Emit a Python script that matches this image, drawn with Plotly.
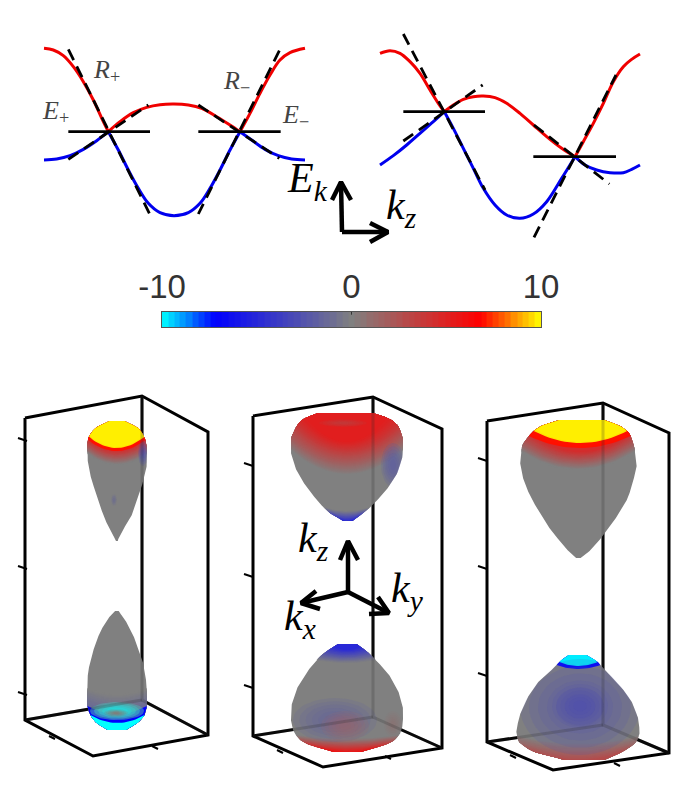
import numpy as np
import plotly.graph_objects as go
from plotly.colors import sample_colorscale

W, H = 678, 798
MATH = "Liberation Serif"

# dispersion panel 1 (k, E), crossings at E = 0
k1_red = [-390, -362, -332, -302, -272, -242, -212, -197, -162, -122, -82, -42, 0, 43, 83, 128, 168, 198, 228, 258, 288, 318, 348, 393]
e1_red = [250, 245, 228, 195, 150, 95, 30, 0, 30, 57, 73, 81, 83, 80, 70, 45, 20, 0, 55, 115, 170, 215, 237, 250]
k1_blue = [-390, -352, -312, -272, -232, -197, -167, -137, -107, -77, -42, 0, 43, 78, 108, 138, 168, 198, 233, 273, 313, 353, 393]
e1_blue = [-85, -82, -72, -53, -27, 0, -55, -115, -170, -215, -243, -252, -243, -215, -170, -115, -55, 0, -25, -53, -72, -82, -85]
k1_cross = [-197, 198]
t1_dashed = [([-317, -74], [247, -245]), ([-317, -77], [-83, 80]), ([316, 73], [243, -247]), ([73, 316], [80, -80])]
t1_flat = [([-317, -72], [0, 0]), ([73, 320], [0, 0])]

# dispersion panel 2
k2_red = [150, 180, 210, 240, 270, 300, 325, 343, 370, 400, 430, 460, 495, 530, 570, 610, 650, 695, 735, 760, 790, 820, 850, 880, 905, 930]
e2_red = [310, 318, 310, 285, 250, 200, 160, 135, 155, 172, 180, 182, 177, 160, 130, 95, 60, 25, 0, 45, 100, 160, 225, 270, 292, 308]
k2_blue = [150, 190, 230, 270, 310, 343, 370, 400, 430, 460, 495, 530, 570, 610, 650, 695, 735, 765, 800, 840, 880, 905, 930]
e2_blue = [-25, 3, 35, 70, 105, 135, 85, 25, -35, -95, -145, -175, -185, -172, -135, -65, 0, -25, -40, -48, -48, -38, -25]
k2_cross = [343, 735]
t2_dashed = [([220, 465], [368, -100]), ([220, 458], [47, 215]), ([612, 858], [-242, 245]), ([612, 838], [95, -82])]
t2_flat = [([220, 465], [135, 135]), ([610, 858], [0, 0])]

# colour bar
cbar_levels = [-9.85, -9.5, -9.2, -8.9, -8.6, -8.2, -7.9, -7.6, -7.3, -7.0, -6.7, -6.3, -6.0, -5.7, -5.4, -5.1,
               -4.8, -4.4, -4.1, -3.8, -3.5, -3.2, -2.9, -2.5, -2.2, -1.9, -1.6, -1.3, -1.0, -0.6, -0.3, 0,
               0.3, 0.6, 1.0, 1.3, 1.6, 1.9, 2.2, 2.5, 2.9, 3.2, 3.5, 3.8, 4.1, 4.4, 4.8, 5.1,
               5.4, 5.7, 6.0, 6.3, 6.7, 7.0, 7.3, 7.6, 7.9, 8.2, 8.6, 8.9, 9.2, 9.5, 9.85]
cbar_ticks = [-10, 0, 10]
cbar_labels = ["-10", "0", "10"]
cscale = [[0, "#00ffff"], [0.14, "#0000ff"], [0.5, "#808080"], [0.84, "#ff0000"], [1, "#ffff00"]]

# Fermi pockets: silhouette rows (y, left, right)
# bands fade (side, edge from, edge to, sag, value from, value to, alpha); spots (cx, cy, rx, ry, value, alpha)
a_top_rows = ([421, 423, 425, 428, 433, 438, 448, 465, 482, 498, 515, 528, 537, 541],
              [112, 106, 100, 95, 91, 88, 87, 88, 92, 98, 103, 109, 114, 116.5],
              [122, 128, 134, 139, 142, 145, 147, 147, 143, 138, 132, 124, 119, 117.5])
a_top_bands = [("top", 454, 440, 11, 0, 4.5, .8), ("top", 440, 439, 11, 7, 7, 1), ("top", 437, 436, 11, 9.8, 9.8, .95)]
a_top_spots = [(143, 453, 5, 13, -3.5, .6), (114, 500, 3, 6, -1.8, .35)]

a_bot_rows = ([611, 618, 632, 645, 658, 672, 688, 705, 715, 723, 727, 730],
              [116, 108, 100, 95, 91, 88, 87, 87, 90, 96, 102, 110],
              [118, 124, 132, 137, 142, 145, 147, 147, 145, 138, 131, 124])
a_bot_bands = [("bottom", 688, 704, 6, 0, -1.2, .6), ("bottom", 706, 707, 8, -7.2, -7.2, .95), ("bottom", 715, 716, 8, -10, -10, 1)]
a_bot_spots = [(117, 711, 27, 9, 0, 1.8), (117, 711, 27, 9, -10, .8), (116, 713, 12, 4, 7, .35)]

b_top_rows = ([413, 415, 418, 425, 438, 455, 472, 488, 505, 515, 521],
              [322, 312, 304, 297, 291, 291, 297, 307, 321, 332, 345],
              [368, 380, 389, 398, 403, 403, 398, 388, 373, 361, 351])
b_top_bands = [("top", 450, 418, 24, 0.2, 5.2, .9), ("bottom", 507, 517, 4, -0.3, -5, .8)]
b_top_spots = [(393, 465, 12, 22, -2.2, .8), (343, 423, 24, 4, 2.5, .5)]

b_bot_rows = ([644, 648, 657, 673, 690, 707, 723, 733, 742, 748, 752],
              [340, 331, 319, 306, 296, 291, 291, 294, 302, 318, 338],
              [355, 363, 373, 388, 398, 403, 403, 401, 393, 376, 357])
b_bot_bands = [("top", 660, 647, 3, -0.3, -5, .8), ("bottom", 735, 748, 4, 0.3, 5.8, .9)]
b_bot_spots = [(335, 720, 42, 22, -1.8, .7), (345, 726, 24, 15, 1.6, .6), (393, 724, 9, 13, 1.5, .35)]

c_top_rows = ([420, 422, 425, 432, 445, 465, 482, 498, 515, 532, 548, 555, 558],
              [564, 552, 542, 532, 522, 520, 524, 531, 541, 552, 566, 571, 578],
              [600, 611, 619, 629, 634, 637, 633, 628, 618, 606, 593, 585, 579])
c_top_bands = [("top", 452, 434, 18, 0, 4.5, .85), ("top", 436, 435, 12, 7, 7, 1), ("top", 431, 430, 12, 9.8, 9.8, .95)]
c_top_spots = []

c_bot_rows = ([655, 657, 660, 667, 683, 700, 717, 733, 743, 753, 760],
              [571, 565, 561, 555, 537, 526, 519, 516, 519, 535, 568],
              [584, 590, 596, 602, 618, 631, 638, 640, 636, 621, 602])
c_bot_bands = [("bottom", 736, 752, 8, 0.3, 2.8, .8), ("top", 665, 664, 4, -7.2, -7.2, 1), ("top", 662, 661, 4, -9.8, -9.8, .95)]
c_bot_spots = [(580, 707, 60, 48, -2.4, .7), (580, 706, 28, 22, -3.2, .45)]

pockets = [(a_top_rows, a_top_bands, a_top_spots), (a_bot_rows, a_bot_bands, a_bot_spots),
           (b_top_rows, b_top_bands, b_top_spots), (b_bot_rows, b_bot_bands, b_bot_spots),
           (c_top_rows, c_top_bands, c_top_spots), (c_bot_rows, c_bot_bands, c_bot_spots)]

# wire boxes: top-left, top-back, top-right, bottom-right, bottom-front, bottom-left, bottom-back
box_corners = [
    [(25, 418), (142, 396), (208, 432), (208, 735), (93, 756), (25, 720), (142, 700)],
    [(253, 416), (373, 397), (442, 429), (442, 748), (323, 767), (253, 736), (373, 717)],
    [(487, 421), (603, 403), (669, 433), (669, 753), (553, 770), (487, 742), (603, 725)],
]
box_ticks = [
    [(18, 438), (18, 566), (18, 692), (52, 738), (155, 748)],
    [(244, 463), (244, 574), (244, 685), (280, 752), (388, 758)],
    [(478, 458), (478, 566), (478, 673), (513, 757), (617, 765)],
]

# compass arrows: shaft, then chevron ends
arrows = [
    ((342, 232), (341, 182), (332, 200), (351, 200)),
    ((342, 232), (388, 232), (370, 223), (370, 242)),
    ((348, 592), (348, 541), (340, 560), (358, 560)),
    ((348, 592), (301, 603), (316, 591), (320, 609)),
    ((348, 592), (389, 613), (378, 597), (369, 614)),
]


def axis(px_a, px_b, rng):
    return dict(domain=[px_a / W, px_b / W], range=rng, visible=False, fixedrange=True, automargin=False)


def yaxis(px_top, px_bot, rng):
    return dict(domain=[1 - px_bot / H, 1 - px_top / H], range=rng, visible=False, fixedrange=True, automargin=False)


def tint(value, alpha):
    rgb = sample_colorscale(cscale, [(value + 10) / 20])[0]
    return rgb.replace("rgb(", "rgba(").replace(")", f",{alpha})")


def dense(rows):
    # silhouette on half px rows, smoothed so the polygon edges stay round
    y, l, r = [np.array(v, dtype=float) for v in rows]
    yy = np.arange(y[0], y[-1] + 0.25, 0.5)
    out = []
    for v in (l, r):
        vv = np.interp(yy, y, v)
        pad = np.r_[[vv[0]] * 6, vv, [vv[-1]] * 6]
        out.append(np.convolve(pad, np.ones(13) / 13, mode="valid"))
    return yy, out[0], out[1]


def inside(prof, x, y):
    py, l, r = prof
    y = np.clip(y, py[0], py[-1])
    return np.clip(x, np.interp(y, py, l), np.interp(y, py, r)), y


def cut(prof, edge, sag, side):
    y, l, r = prof
    xl, xr = np.interp(edge, y, l), np.interp(edge, y, r)
    t = np.linspace(-1, 1, 25)
    ax, ay = inside(prof, xl + (xr - xl) * (t + 1) / 2, edge + sag * (1 - t ** 2))
    if side == "top":
        m = y < edge
        return np.r_[r[m], ax[::-1], l[m][::-1]], np.r_[y[m], ay[::-1], y[m][::-1]]
    m = y > edge
    return np.r_[ax, r[m], l[m][::-1]], np.r_[ay, y[m], y[m][::-1]]


def patch(fig, x, y, color):
    fig.add_trace(go.Scatter(x=x, y=y, mode="lines", fill="toself", fillcolor=color,
                             line=dict(width=0), hoverinfo="skip", showlegend=False))


def stroke(fig, x, y, width, dash=None, color="black", xa="x", ya="y", shape="linear"):
    fig.add_trace(go.Scatter(x=x, y=y, mode="lines", xaxis=xa, yaxis=ya,
                             line=dict(color=color, width=width, dash=dash, shape=shape, smoothing=1),
                             hoverinfo="skip", showlegend=False))


def curve(fig, k, e, cross, color, xa, ya):
    # spline each branch on its own so the band crossings stay sharp
    k, e = np.array(k), np.array(e)
    cuts = [0] + [int(np.where(k == c)[0][0]) for c in cross] + [len(k) - 1]
    for a, b in zip(cuts[:-1], cuts[1:]):
        stroke(fig, k[a:b + 1], e[a:b + 1], 3, color=color, xa=xa, ya=ya, shape="spline")


fig = go.Figure()

# 3D wire boxes, drawn first so the pockets sit over the back edges
for c, t in zip(box_corners, box_ticks):
    outline = [c[0], c[1], c[2], c[3], c[4], c[5], c[0], None, c[1], c[6], c[3], None, c[6], c[5]]
    stroke(fig, [p[0] if p else None for p in outline], [p[1] if p else None for p in outline], 3)
    tx, ty = [], []
    for px, py in t[:3]:
        tx += [px, px + 9, None]
        ty += [py, py + 3, None]
    for px, py in t[3:]:
        tx += [px - 3, px + 3, None]
        ty += [py - 2, py + 1, None]
    stroke(fig, tx, ty, 2)

for rows, bands, spots in pockets:
    prof = dense(rows)
    y, l, r = prof
    patch(fig, np.r_[r, l[::-1]], np.r_[y, y[::-1]], "rgb(128,128,128)")
    for side, e0, e1, sag, v0, v1, alpha in bands:
        steps = max(2, int(abs(e1 - e0)))
        for i in range(steps):
            f = i / (steps - 1)
            bx, by = cut(prof, e0 + (e1 - e0) * f, sag, side)
            patch(fig, bx, by, tint(v0 + (v1 - v0) * f, alpha))
    for cx, cy, rx, ry, val, alpha in spots:
        th = np.linspace(0, 2 * np.pi, 49)
        for s in [1, .85, .7, .55, .4, .25]:
            sx, sy = inside(prof, cx + s * rx * np.cos(th), cy + s * ry * np.sin(th))
            patch(fig, sx, sy, tint(val, round(min(alpha / 4, 1), 3)))

# back edges showing faintly through the pockets
for c in box_corners:
    back = [c[1], c[6], c[3], None, c[6], c[5]]
    stroke(fig, [p[0] if p else None for p in back], [p[1] if p else None for p in back], 3, color="rgba(40,40,40,0.22)")

for shaft0, tip, wing1, wing2 in arrows:
    stroke(fig, [shaft0[0], tip[0]], [shaft0[1], tip[1]], 4.5)
    stroke(fig, [wing1[0], tip[0], wing2[0]], [wing1[1], tip[1], wing2[1]], 4.5)

# dispersion curves
for xa, ya, kr, er, kb, eb, cross, dashed, flat in [("x2", "y2", k1_red, e1_red, k1_blue, e1_blue, k1_cross, t1_dashed, t1_flat),
                                                     ("x3", "y3", k2_red, e2_red, k2_blue, e2_blue, k2_cross, t2_dashed, t2_flat)]:
    curve(fig, kr, er, cross, "#f00000", xa, ya)
    curve(fig, kb, eb, cross, "#0000ee", xa, ya)
    for tx, ty in dashed:
        stroke(fig, tx, ty, 2.8, dash="12px,7px", xa=xa, ya=ya)
    for tx, ty in flat:
        stroke(fig, tx, ty, 2.8, xa=xa, ya=ya)

fig.add_trace(go.Heatmap(x=cbar_levels, y=[0], z=[cbar_levels], xaxis="x4", yaxis="y4", zmin=-10, zmax=10,
                         colorscale=cscale, showscale=False, hoverinfo="skip"))
fig.add_trace(go.Scatter(x=[0, 0], y=[0.5, 0.32], mode="lines", xaxis="x4", yaxis="y4",
                         line=dict(color="#333", width=1), hoverinfo="skip", showlegend=False))

labels = [
    ("<i>R</i><sub>+</sub>", 106, 71, 26, "#444"), ("<i>R</i><sub>\u2212</sub>", 236, 82, 26, "#444"),
    ("<i>E</i><sub>+</sub>", 55, 112, 26, "#444"), ("<i>E</i><sub>\u2212</sub>", 295, 116, 26, "#444"),
    ("<i>E<sub>k</sub></i>", 307, 181, 42, "black"), ("<i>k<sub>z</sub></i>", 401, 208, 42, "black"),
    ("<i>k<sub>z</sub></i>", 313, 541, 42, "black"), ("<i>k<sub>y</sub></i>", 407, 591, 42, "black"),
    ("<i>k<sub>x</sub></i>", 300, 619, 42, "black"),
]
for text, px, py, size, color in labels:
    fig.add_annotation(x=px, y=py, xref="x", yref="y", text=text, showarrow=False,
                       font=dict(family=MATH, size=size, color=color))

fig.update_layout(
    width=W, height=H, margin=dict(l=0, r=0, t=0, b=0, autoexpand=False), paper_bgcolor="white", plot_bgcolor="rgba(0,0,0,0)",
    showlegend=False,
    xaxis=axis(0, W, [0, W]), yaxis=yaxis(0, H, [H, 0]),
    xaxis2=dict(axis(20, 330, [-462, 468]), anchor="y2"), yaxis2=dict(yaxis(10, 240, [-325, 365]), anchor="x2"),
    xaxis3=dict(axis(330, 650, [0, 960]), anchor="y3"), yaxis3=dict(yaxis(10, 250, [-280, 440]), anchor="x3"),
    xaxis4=dict(domain=[162 / W, 541 / W], range=[-10, 10], anchor="y4", side="top", tickmode="array",
                tickvals=cbar_ticks, ticktext=cbar_labels, automargin=False,
                ticklen=16, tickcolor="rgba(0,0,0,0)", showgrid=False, zeroline=False, mirror=True,
                showline=True, linecolor="#555", linewidth=1, fixedrange=True,
                tickfont=dict(family="Liberation Sans", size=33, color="#333")),
    yaxis4=dict(domain=[1 - 327 / H, 1 - 312 / H], range=[-0.5, 0.5], anchor="x4", mirror=True, showline=True, automargin=False,
                linecolor="#555", linewidth=1, showticklabels=False, ticks="", showgrid=False, zeroline=False, fixedrange=True),
)

fig.write_html("out.html", config={"displayModeBar": False}, post_script="document.body.style.margin='0';")
